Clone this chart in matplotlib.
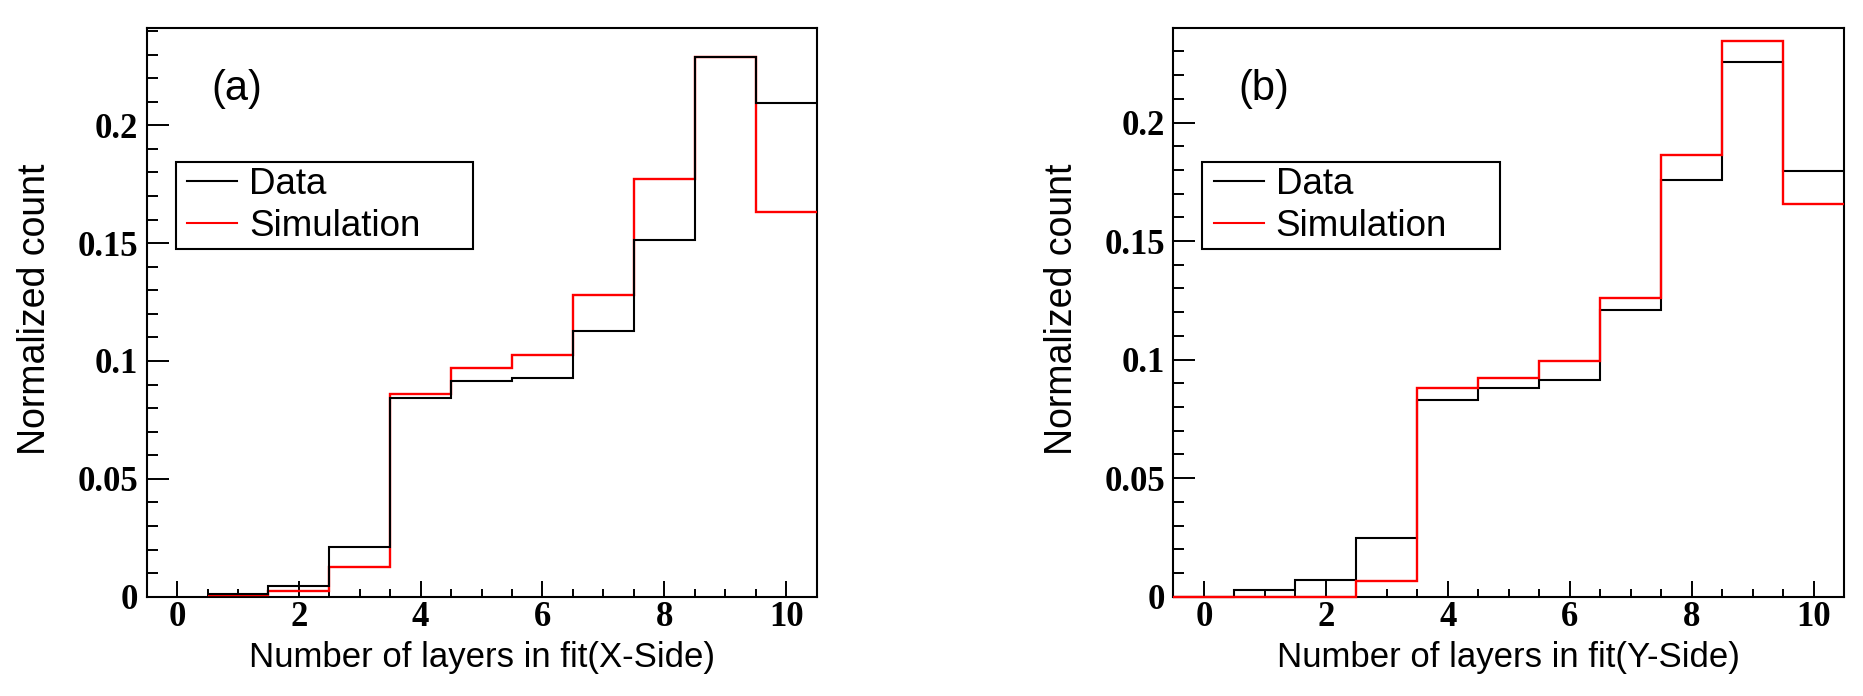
import matplotlib
matplotlib.use("Agg")
import matplotlib.pyplot as plt
from matplotlib.lines import Line2D
from matplotlib.legend_handler import HandlerLine2D
import numpy as np

# bin edges and bin contents
edges_a = [0.5, 1.5, 2.5, 3.5, 4.5, 5.5, 6.5, 7.5, 8.5, 9.5, 10.5]
data_a = [0.0013, 0.0045, 0.0210, 0.0844, 0.0917, 0.0929, 0.1128, 0.1515, 0.2290, 0.2094]
sim_a = [0.0009, 0.0023, 0.0128, 0.0859, 0.0970, 0.1026, 0.1282, 0.1774, 0.2290, 0.1630]

edges_b = [-0.5, 0.5, 1.5, 2.5, 3.5, 4.5, 5.5, 6.5, 7.5, 8.5, 9.5, 10.5]
data_b = [0.0, 0.0028, 0.0070, 0.0246, 0.0829, 0.0879, 0.0916, 0.1210, 0.1758, 0.2255, 0.1797]
sim_b = [0.0, 0.0, 0.0, 0.0065, 0.0881, 0.0923, 0.0996, 0.1261, 0.1863, 0.2345, 0.1656]

x_ticks = [0, 2, 4, 6, 8, 10]
x_ticklabels = ["0", "2", "4", "6", "8", "10"]
y_ticks = [0, 0.05, 0.1, 0.15, 0.2]
y_ticklabels = ["0", "0.05", "0.1", "0.15", "0.2"]

SANS = "Liberation Sans"
SERIF = "Liberation Serif"
LW = 1.5


def draw_panel(ax, edges, data, sim, ymax, tag, xlabel, data_on_top):
    z_data, z_sim = (4, 3) if data_on_top else (3, 4)
    # no drop to the baseline at the ends, like ROOT's "hist" outline
    ax.stairs(data, edges, baseline=None, color="black", lw=LW,
              zorder=z_data, clip_on=False)
    ax.stairs(sim, edges, baseline=None, color="red", lw=LW + 0.2,
              zorder=z_sim, clip_on=False)

    ax.set_xlim(-0.5, 10.5)
    ax.set_ylim(0, ymax)
    ax.set_xticks(x_ticks)
    ax.set_xticklabels(x_ticklabels)
    ax.set_xticks(np.arange(0.5, 10.5, 1.0).tolist() + [1, 3, 5, 7, 9], minor=True)
    ax.set_yticks(y_ticks)
    ax.set_yticklabels(y_ticklabels)
    ax.set_yticks([v / 100 for v in range(1, 25) if v % 5], minor=True)

    for s in ax.spines.values():
        s.set_linewidth(1.5)
    ax.tick_params(which="both", direction="in", top=False, right=False, width=1.4)
    ax.tick_params(axis="x", which="major", length=11.5, pad=3)
    ax.tick_params(axis="x", which="minor", length=5.8)
    ax.tick_params(axis="y", which="major", length=15.8, pad=6)
    ax.tick_params(axis="y", which="minor", length=7.9)
    for lab in ax.get_xticklabels() + ax.get_yticklabels():
        lab.set_family(SERIF)
        lab.set_fontweight("bold")
        lab.set_fontsize(25)

    ax.set_xlabel(xlabel, family=SANS, fontsize=25, va="top")
    ax.xaxis.set_label_coords(0.5, -0.078)
    ax.set_ylabel("Normalized count", family=SANS, fontsize=27, va="center")
    ax.yaxis.set_label_coords(-0.166, 0.505)

    ax.text(0.135, 0.892, tag, transform=ax.transAxes, family=SANS,
            fontsize=30, ha="center", va="center")

    handles = [Line2D([], [], color="black", lw=LW),
               Line2D([], [], color="red", lw=LW)]
    leg = ax.legend(handles, ["Data", "Simulation"], loc="upper left",
                    bbox_to_anchor=(0.0433, 0.7634, 0.4433, 0), mode="expand",
                    borderaxespad=0, fancybox=False, framealpha=1,
                    edgecolor="black", prop={"family": SANS, "size": 26.5},
                    numpoints=2, handler_map={Line2D: HandlerLine2D(marker_pad=0.2)},
                    handlelength=1.75, handletextpad=0.12, borderpad=0.12,
                    labelspacing=0.2)
    leg.get_frame().set_linewidth(1.5)
    leg.set_zorder(5)


fig = plt.figure(figsize=(18.63, 6.96), dpi=100)
ax_a = fig.add_axes([0.0787, 0.1427, 0.3596, 0.8175])
ax_b = fig.add_axes([0.6298, 0.1427, 0.3602, 0.8175])

draw_panel(ax_a, edges_a, data_a, sim_a, 0.2414, "(a)",
           "Number of layers in fit(X-Side)", True)
draw_panel(ax_b, edges_b, data_b, sim_b, 0.2367, "(b)",
           "Number of layers in fit(Y-Side)", False)

fig.savefig("out.png", dpi=100)
